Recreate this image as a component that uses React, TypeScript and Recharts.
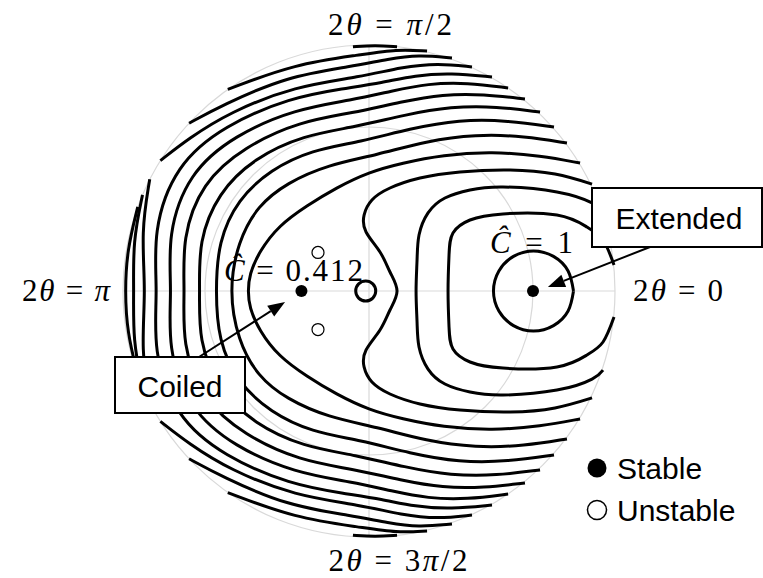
import { ScatterChart, Scatter, XAxis, YAxis, ReferenceLine, ReferenceDot } from "recharts"

type Pt = [number, number]

// Energy contours in the (C cos 2θ, C sin 2θ) plane, upper half only.
// The lower half is the mirror image.
const level01: Pt[] = [[1.247, 0], [1.214, 0.122], [1.125, 0.211], [1.003, 0.244], [0.881, 0.211], [0.792, 0.122], [0.759, 0]]
const level02: Pt[] = [[1.494, 0.159], [1.427, 0.311], [1.329, 0.39], [1.146, 0.463], [0.817, 0.47], [0.616, 0.433], [0.512, 0.354], [0.488, 0.22], [0.482, 0]]
const level03: Pt[] = [[1.427, 0.482], [1.36, 0.537], [1.146, 0.604], [0.817, 0.634], [0.616, 0.616], [0.463, 0.567], [0.36, 0.476], [0.305, 0.341], [0.293, 0.189], [0.287, 0]]
const level04: Pt[] = [[1.36, 0.652], [1.134, 0.713], [0.86, 0.738], [0.555, 0.726], [0.311, 0.689], [0.128, 0.628], [0.018, 0.555], [-0.03, 0.463], [-0.018, 0.36], [0.067, 0.238], [0.128, 0.116], [0.171, 0]]
const level05: Pt[] = [[1.287, 0.78], [1.05, 0.825], [0.75, 0.85], [0.45, 0.83], [0.2, 0.78], [0, 0.726], [-0.2, 0.63], [-0.38, 0.52], [-0.55, 0.4], [-0.67, 0.24], [-0.73, 0.1], [-0.738, 0]]
const level06: Pt[] = [[1.207, 0.902], [0.95, 0.945], [0.65, 0.955], [0.35, 0.915], [0.05, 0.83], [-0.25, 0.77], [-0.5, 0.66], [-0.68, 0.52], [-0.8, 0.3], [-0.854, 0]]
const level07: Pt[] = [[1.128, 1.0], [0.85, 1.04], [0.55, 1.045], [0.25, 0.99], [-0.05, 0.91], [-0.35, 0.86], [-0.6, 0.74], [-0.8, 0.56], [-0.92, 0.3], [-0.935, 0]]
const level08: Pt[] = [[1.043, 1.091], [0.78, 1.125], [0.5, 1.125], [0.22, 1.075], [-0.08, 1.0], [-0.4, 0.95], [-0.7, 0.81], [-0.92, 0.6], [-1.04, 0.3], [-1.03, 0]]
const level09: Pt[] = [[0.951, 1.171], [0.7, 1.2], [0.45, 1.2], [0.2, 1.155], [-0.1, 1.085], [-0.42, 1.035], [-0.76, 0.88], [-1.02, 0.66], [-1.14, 0.32], [-1.122, 0]]
const level10: Pt[] = [[0.848, 1.238], [0.6, 1.27], [0.36, 1.265], [0.14, 1.22], [-0.1, 1.165], [-0.45, 1.11], [-0.82, 0.95], [-1.1, 0.72], [-1.23, 0.34], [-1.201, 0]]
const level11: Pt[] = [[0.75, 1.305], [0.5, 1.33], [0.28, 1.315], [0.08, 1.27], [-0.15, 1.235], [-0.48, 1.18], [-0.88, 1.01], [-1.18, 0.77], [-1.32, 0.36], [-1.287, 0]]
const level12Top: Pt[] = [[0.628, 1.366], [0.42, 1.39], [0.2, 1.365], [-0.05, 1.305], [-0.45, 1.25], [-0.85, 1.09], [-1.1, 0.93], [-1.272, 0.795]]
const level12Side: Pt[] = [[-1.337, 0.681], [-1.39, 0.36], [-1.36, 0]]
const level13Top: Pt[] = [[0.506, 1.421], [0.3, 1.44], [0.12, 1.415], [-0.1, 1.37], [-0.5, 1.31], [-0.9, 1.13], [-1.097, 1.023]]
const level13Side: Pt[] = [[-1.381, 0.586], [-1.44, 0.3], [-1.433, 0]]
const level14Top: Pt[] = [[0.354, 1.463], [0.17, 1.475], [-0.05, 1.44], [-0.45, 1.385], [-0.861, 1.229]]
const level14Side: Pt[] = [[-1.41, 0.513], [-1.475, 0.25], [-1.488, 0]]
const level15Top: Pt[] = [[-0.098, 1.49], [0.037, 1.498], [0.171, 1.49]]

// curves reaching the horizontal axis are joined with their mirror image
const acrossAxis = [level01, level02, level03, level04, level05, level06, level07, level08, level09, level10, level11, level12Side, level13Side, level14Side]
// pieces cut off by the rim stay separate from their mirror image
const rimPieces = [level12Top, level13Top, level14Top, level15Top]
// the four innermost curves are drawn through their points, the rest as smoothed splines
const innerCount = 4

const stablePoints = [{ x: -0.412, y: 0 }, { x: 1, y: 0 }]
const saddlePoints = [{ x: -0.311, y: 0.235 }, { x: -0.311, y: -0.235 }]
const originPoint = [{ x: -0.02, y: 0 }]

const W = 763
const H = 578
const MARGIN = { top: 45, right: 148, bottom: 41, left: 123 }
const C_MAX = 1.5
const UNIT = (W - MARGIN.left - MARGIN.right) / (2 * C_MAX)
const px = (x: number) => MARGIN.left + (x + C_MAX) * UNIT
const py = (y: number) => MARGIN.top + (C_MAX - y) * UNIT

const mirrorJoin = (pts: Pt[]): Pt[] => [...pts, ...pts.slice(0, -1).reverse().map(([x, y]) => [x, -y] as Pt)]
const flip = (pts: Pt[]): Pt[] => pts.map(([x, y]) => [x, -y] as Pt)

const contourPaths = [...acrossAxis.map(mirrorJoin), ...rimPieces.flatMap((p) => [p, flip(p)])].map((pts) =>
  pts.map(([x, y]) => ({ x, y }))
)

const GRID = "#d9d9d9"
const SERIF = "'Liberation Serif', 'DejaVu Serif', serif"
const SANS = "'Liberation Sans', Arial, sans-serif"

const NoDot = () => <g />
const StableDot = (p: any) => <circle cx={p.cx} cy={p.cy} r={6} fill="#000" />
const SaddleDot = (p: any) => <circle cx={p.cx} cy={p.cy} r={6} fill="#fff" stroke="#000" strokeWidth={1.2} />
const OriginDot = (p: any) => <circle cx={p.cx} cy={p.cy} r={10} fill="none" stroke="#000" strokeWidth={3} />

function Arrow({ x1, y1, x2, y2 }: { x1: number; y1: number; x2: number; y2: number }) {
  const a = Math.atan2(y2 - y1, x2 - x1)
  const len = 17
  const half = 6.5
  const bx = x2 - len * Math.cos(a)
  const by = y2 - len * Math.sin(a)
  const pts = [
    [x2, y2],
    [bx + half * Math.sin(a), by - half * Math.cos(a)],
    [bx - half * Math.sin(a), by + half * Math.cos(a)],
  ]
  return (
    <g>
      <line x1={x1} y1={y1} x2={bx} y2={by} stroke="#000" strokeWidth={2} />
      <polygon points={pts.map((q) => q.join(",")).join(" ")} fill="#000" />
    </g>
  )
}

// labels, callouts and legend drawn over the plot
function Annotations() {
  return (
    <svg width={W} height={H} style={{ position: "absolute", left: 0, top: 0, pointerEvents: "none" }}>
      <text x={390} y={35} textAnchor="middle" fontFamily={SERIF} fontSize={31} textLength={124} lengthAdjust="spacing">
        2<tspan fontStyle="italic">θ</tspan> = <tspan fontStyle="italic">π</tspan>/2
      </text>
      <text x={633} y={301} fontFamily={SERIF} fontSize={31} textLength={90} lengthAdjust="spacing">
        2<tspan fontStyle="italic">θ</tspan> = 0
      </text>
      <text x={22} y={301} fontFamily={SERIF} fontSize={31} textLength={88} lengthAdjust="spacing">
        2<tspan fontStyle="italic">θ</tspan> = <tspan fontStyle="italic">π</tspan>
      </text>
      <text x={398} y={571} textAnchor="middle" fontFamily={SERIF} fontSize={31} textLength={139} lengthAdjust="spacing">
        2<tspan fontStyle="italic">θ</tspan> = 3<tspan fontStyle="italic">π</tspan>/2
      </text>

      <text x={224} y={281} fontFamily={SERIF} fontSize={31} textLength={139} lengthAdjust="spacing">
        <tspan fontStyle="italic">Ĉ</tspan> = 0.412
      </text>
      <text x={490} y={253} fontFamily={SERIF} fontSize={31} textLength={83} lengthAdjust="spacing">
        <tspan fontStyle="italic">Ĉ</tspan> = 1
      </text>

      <Arrow x1={650} y1={247} x2={px(1.091)} y2={py(0.024)} />
      <rect x={592} y={188} width={170} height={59} fill="#fff" stroke="#000" strokeWidth={2} />
      <text x={679} y={229} textAnchor="middle" fontFamily={SANS} fontSize={30}>Extended</text>

      <Arrow x1={199} y1={357} x2={px(-0.512)} y2={py(-0.067)} />
      <rect x={115} y={357} width={130} height={56} fill="#fff" stroke="#000" strokeWidth={2} />
      <text x={180} y={397} textAnchor="middle" fontFamily={SANS} fontSize={30}>Coiled</text>

      <circle cx={597} cy={468} r={9.5} fill="#000" />
      <text x={617} y={479} fontFamily={SANS} fontSize={30}>Stable</text>
      <circle cx={597} cy={510} r={9.5} fill="#fff" stroke="#000" strokeWidth={1.5} />
      <text x={617} y={521} fontFamily={SANS} fontSize={30}>Unstable</text>
    </svg>
  )
}

export default function App() {
  return (
    <div style={{ position: "absolute", left: 0, top: 0, width: W, height: H, background: "#fff" }}>
      <ScatterChart width={W} height={H} margin={MARGIN}>
        <XAxis type="number" dataKey="x" domain={[-C_MAX, C_MAX]} hide />
        <YAxis type="number" dataKey="y" domain={[-C_MAX, C_MAX]} hide />
        <ReferenceDot x={0} y={0} r={UNIT} fill="none" stroke={GRID} strokeWidth={1.2} />
        <ReferenceDot x={0} y={0} r={C_MAX * UNIT} fill="none" stroke={GRID} strokeWidth={1.2} />
        <ReferenceLine x={0} stroke={GRID} strokeWidth={1.2} />
        <ReferenceLine y={0} stroke={GRID} strokeWidth={1.2} />
        {contourPaths.map((d, i) => (
          <Scatter
            key={i}
            data={d}
            shape={NoDot}
            line={{ stroke: "#000", strokeWidth: 3 }}
            lineJointType={i < innerCount ? "natural" : "basis"}
            stroke="#000"
            isAnimationActive={false}
          />
        ))}
        <Scatter data={originPoint} shape={OriginDot} isAnimationActive={false} />
        <Scatter data={saddlePoints} shape={SaddleDot} isAnimationActive={false} />
        <Scatter data={stablePoints} shape={StableDot} isAnimationActive={false} />
      </ScatterChart>
      <Annotations />
    </div>
  )
}
